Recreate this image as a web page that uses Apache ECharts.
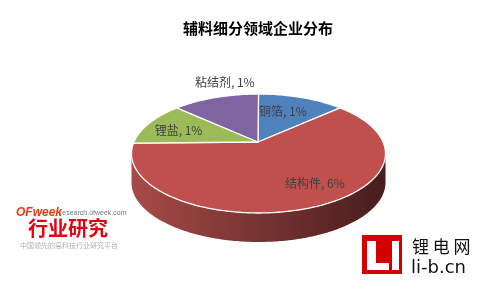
<!DOCTYPE html>
<html>
<head>
<meta charset="utf-8">
<script src="https://cdn.jsdelivr.net/npm/echarts@6/dist/echarts.min.js"></script>
<style>html,body{margin:0;padding:0;background:#fff;}#c{width:477px;height:283px;}</style>
</head>
<body>
<div id="c"></div>
<script>
// ---- data ----
const titleText = '辅料细分领域企业分布';
const categories = ['铜箔', '结构件', '锂盐', '粘结剂'];
const values = [1, 6, 1, 1];
const valueLabels = ['1%', '6%', '1%', '1%'];

// ---- styles / layout ----
const colors = ['#4F81BD', '#C0504D', '#9BBB59', '#8064A2'];
const CX = 258.5, CY = 153.5, RX = 127, RY = 59.5; // top ellipse
const APEX = [258, 142];
const DEPTH = 29;
const LABEL_F = 0.68;
const labelOffsets = [[-5, 0], [27, -4], [-5, 1], [-4, -29]];

function ellPt(deg, dy) {
  const p = deg * Math.PI / 180;
  return [CX + RX * Math.sin(p), CY - RY * Math.cos(p) + (dy || 0)];
}
function arc(a0, a1, dy) {
  const pts = [];
  const n = Math.max(2, Math.ceil(Math.abs(a1 - a0) / 1));
  for (let i = 0; i <= n; i++) pts.push(ellPt(a0 + (a1 - a0) * i / n, dy));
  return pts;
}

const total = values.reduce((a, b) => a + b, 0);

function renderItem(params, api) {
  const idx = params.dataIndex;
  let start = 0;
  for (let i = 0; i < idx; i++) start += values[i];
  const v = api.value(0);
  const a0 = start / total * 360;
  const a1 = (start + v) / total * 360;
  const children = [];
  // side wall (front half only)
  const s = Math.max(a0, 90), e = Math.min(a1, 270);
  if (s < e) {
    const pts = arc(s, e, 0).concat(arc(e, s, DEPTH));
    children.push({
      type: 'polygon',
      shape: { points: pts },
      style: {
        fill: new echarts.graphic.LinearGradient(0, 0, 1, 0, [
          { offset: 0, color: '#a84a47' },
          { offset: 0.5, color: '#763432' },
          { offset: 1, color: '#471d1d' }
        ]),
        stroke: null
      },
      z2: 1
    });
  }
  // top
  const topPts = [APEX].concat(arc(a0, a1, 0));
  children.push({
    type: 'polygon',
    shape: { points: topPts },
    style: { fill: colors[idx], stroke: '#ffffff', lineWidth: 1.3, lineJoin: 'round' },
    z2: 5
  });
  // label
  const mid = (a0 + a1) / 2;
  const rim = ellPt(mid, 0);
  const lx = APEX[0] + (rim[0] - APEX[0]) * LABEL_F + labelOffsets[idx][0];
  const ly = APEX[1] + (rim[1] - APEX[1]) * LABEL_F + labelOffsets[idx][1];
  children.push({
    type: 'text',
    style: {
      x: lx, y: ly,
      text: categories[idx] + ', ' + valueLabels[idx],
      fill: '#404040',
      font: '12px "Noto Sans CJK SC", "Microsoft YaHei", sans-serif',
      align: 'center',
      verticalAlign: 'middle'
    },
    z2: 100
  });
  return { type: 'group', children: children };
}

const chart = echarts.init(document.getElementById('c'), null, { renderer: 'canvas' });
chart.setOption({
  backgroundColor: '#ffffff',
  animation: false,
  title: {
    text: titleText,
    left: 183,
    top: 21,
    padding: 0,
    textStyle: {
      fontFamily: '"Noto Sans CJK SC", sans-serif',
      fontSize: 15,
      fontWeight: 'bold',
      color: '#000000'
    }
  },
  series: [{
    type: 'custom',
    coordinateSystem: 'none',
    renderItem: renderItem,
    data: values.map((v, i) => ({ name: categories[i], value: [v] }))
  }],
  graphic: [
    { type: 'text', left: 16, top: 207, style: { text: 'OFweek', fill: '#e8380d', font: 'italic bold 12px "Liberation Sans", Arial, sans-serif' } },
    { type: 'text', left: 60, top: 210, style: { text: 'research.ofweek.com', fill: '#777777', font: '7px "Liberation Sans", Arial, sans-serif' } },
    { type: 'text', left: 28, top: 218, style: { text: '行业研究', fill: '#e60012', font: 'bold 20px "Noto Sans CJK SC", sans-serif' } },
    { type: 'text', left: 20, top: 242, style: { text: '中国领先的高科技行业研究平台', fill: '#b0b0b0', font: '7px "Noto Sans CJK SC", sans-serif' } },
    { type: 'rect', shape: { x: 362, y: 235, width: 40, height: 39 }, style: { fill: '#d40000' } },
    { type: 'rect', shape: { x: 367, y: 241, width: 9, height: 29 }, style: { fill: '#ffffff' } },
    { type: 'rect', shape: { x: 367, y: 263, width: 22, height: 7 }, style: { fill: '#ffffff' } },
    { type: 'rect', shape: { x: 392, y: 241, width: 7, height: 29 }, style: { fill: '#ffffff' } },
    { type: 'text', left: 412, top: 238, style: { text: '锂 电 网', fill: '#111111', font: '17px "Noto Sans CJK SC", sans-serif' } },
    { type: 'text', left: 411, top: 259, style: { text: 'li-b.cn', fill: '#111111', font: '18px "DejaVu Sans", sans-serif' } }
  ]
});
</script>
</body>
</html>
